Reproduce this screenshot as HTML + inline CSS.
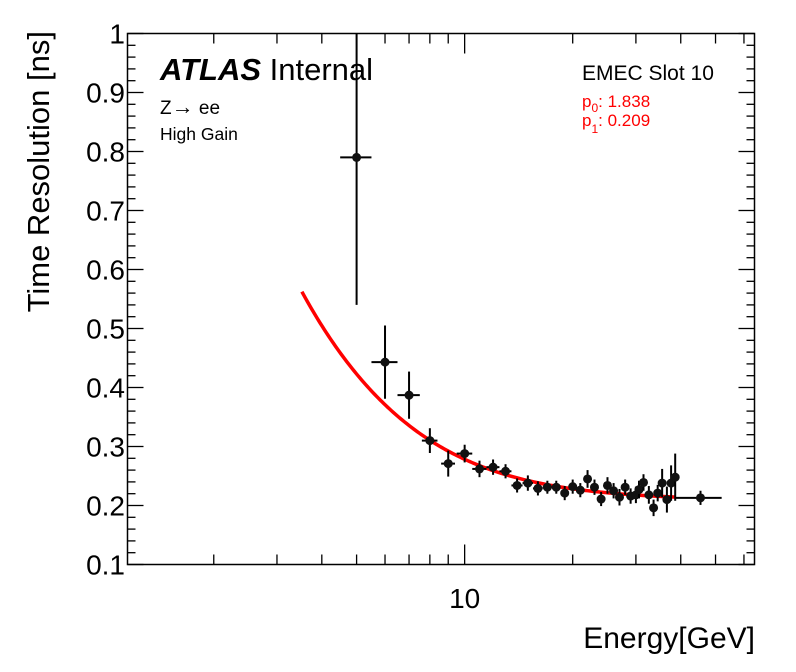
<!DOCTYPE html>
<html><head><meta charset="utf-8"><style>
html,body{margin:0;padding:0;background:#fff;}
svg{display:block;font-family:"Liberation Sans",sans-serif;}
</style></head><body>
<svg id="chart" width="796" height="672" viewBox="0 0 796 672" xmlns="http://www.w3.org/2000/svg">
<rect x="0" y="0" width="796" height="672" fill="#fff"/>
<g id="ticks"></g>
<rect x="127.5" y="33.5" width="627" height="531" fill="none" stroke="#000" stroke-width="1.5"/>
<g id="fit"></g>
<g id="points"></g>
<g id="labels"></g>
<text transform="translate(49,31) rotate(-90)" text-anchor="end" font-size="31">Time Resolution [ns]</text>
<text x="755" y="648" text-anchor="end" font-size="30">Energy[GeV]</text>
<text x="160" y="80" font-size="31"><tspan font-weight="bold" font-style="italic">ATLAS</tspan> Internal</text>
<text x="160" y="114" font-size="19">Z<tspan font-size="22">→</tspan> ee</text>
<text x="160" y="140" font-size="17.5">High Gain</text>
<text x="582" y="80" font-size="21">EMEC Slot 10</text>
<text x="582" y="107" font-size="17" fill="#f00">p<tspan font-size="12" dy="5">0</tspan><tspan dy="-5">: 1.838</tspan></text>
<text x="582" y="126" font-size="17" fill="#f00">p<tspan font-size="12" dy="7">1</tspan><tspan dy="-7">: 0.209</tspan></text>
</svg>
<script>
const energies=[5,6,7,8,9,10,11,12,13,14,15,16,17,18,19,20,21,22,23,24,25,26,27,28,29,30,30.6,31.5,32.6,33.6,34.5,35.5,36.6,37.6,38.6,45.4];
const resolutions=[0.79,0.443,0.387,0.310,0.271,0.288,0.262,0.265,0.258,0.234,0.238,0.229,0.231,0.231,0.221,0.232,0.226,0.245,0.231,0.211,0.234,0.225,0.214,0.231,0.216,0.218,0.227,0.239,0.218,0.196,0.221,0.238,0.210,0.238,0.248,0.213];
const yErrors=[0.25,0.062,0.04,0.021,0.022,0.015,0.014,0.013,0.012,0.012,0.013,0.012,0.011,0.011,0.012,0.012,0.012,0.015,0.013,0.012,0.014,0.013,0.014,0.013,0.013,0.014,0.015,0.014,0.015,0.014,0.014,0.024,0.022,0.03,0.04,0.012];
const xErrLow=[0.5,0.5,0.5,0.4,0.4,0.5,0.5,0.5,0.5,0.5,0.5,0.5,0.5,0.5,0.5,0.5,0.5,0.5,0.5,0.5,0.5,0.5,0.5,0.5,0.5,0.4,0.4,0.4,0.4,0.4,0.4,0.4,0.4,0.4,0.4,6.6];
const xErrHigh=[0.5,0.5,0.5,0.4,0.4,0.5,0.5,0.5,0.5,0.5,0.5,0.5,0.5,0.5,0.5,0.5,0.5,0.5,0.5,0.5,0.5,0.5,0.5,0.5,0.5,0.4,0.4,0.4,0.4,0.4,0.4,0.4,0.4,0.4,0.4,6.6];
const fitP0=1.838, fitP1=0.209;
const fitRange=[3.52,38.6];
const yTicks=[0.1,0.2,0.3,0.4,0.5,0.6,0.7,0.8,0.9,1];
const yTickLabels=["0.1","0.2","0.3","0.4","0.5","0.6","0.7","0.8","0.9","1"];
const xMinorTicks=[2,3,4,5,6,7,8,9,20,30,40,50,60];
const xMajorTicks=[10];
const xTickLabels=["10"];

const NS="http://www.w3.org/2000/svg";
const L=127.5,R=754.5,T=33.5,B=564.5;
const xMin=Math.log10(1.15),xMax=Math.log10(64.2);
function X(e){return L+(Math.log10(e)-xMin)/(xMax-xMin)*(R-L);}
function Y(v){return B-(v-0.1)/(0.9)*(B-T);}
function mk(tag,attrs,parent){const el=document.createElementNS(NS,tag);for(const k in attrs)el.setAttribute(k,attrs[k]);parent.appendChild(el);return el;}
const gT=document.getElementById('ticks'),gF=document.getElementById('fit'),gP=document.getElementById('points'),gL=document.getElementById('labels');
for(let v=0.1;v<=1.0001;v+=0.02){
  const y=Y(v);const major=Math.abs(v*10-Math.round(v*10))<1e-6;const len=major?16:8;
  const t1=mk('line',{x1:L,x2:L+len,y1:y,y2:y,stroke:'#000','stroke-width':1.3},gT);
  
  
  const t2=mk('line',{x1:R,x2:R-len,y1:y,y2:y,stroke:'#000','stroke-width':1.3},gT);
  
  
}
yTicks.forEach((v,i)=>{
  const t=mk('text',{x:125,y:Y(v)+10,'text-anchor':'end','font-size':28},gL);
  t.textContent=yTickLabels[i];
  
  
});
xMinorTicks.forEach(e=>{const x=X(e);
  const a=mk('line',{x1:x,x2:x,y1:B,y2:B-10,stroke:'#000','stroke-width':1.3},gT);
  
  
  const b=mk('line',{x1:x,x2:x,y1:T,y2:T+10,stroke:'#000','stroke-width':1.3},gT);
  
  
});
xMajorTicks.forEach((e,i)=>{const x=X(e);
  const a=mk('line',{x1:x,x2:x,y1:B,y2:B-20,stroke:'#000','stroke-width':1.3},gT);
  
  
  const b=mk('line',{x1:x,x2:x,y1:T,y2:T+20,stroke:'#000','stroke-width':1.3},gT);
  
  
  const t=mk('text',{x:x,y:608,'text-anchor':'middle','font-size':28},gL);
  t.textContent=xTickLabels[i];
  
  
});
let d='';const n=200;
for(let i=0;i<=n;i++){const le=Math.log10(fitRange[0])+(Math.log10(fitRange[1])-Math.log10(fitRange[0]))*i/n;const e=Math.pow(10,le);
  const v=Math.sqrt(Math.pow(fitP0/e,2)+fitP1*fitP1);d+=(i?'L':'M')+X(e).toFixed(2)+','+Y(v).toFixed(2);}
const fc=mk('path',{d:d,fill:'none',stroke:'#f00','stroke-width':3.5},gF);


energies.forEach((e,i)=>{
  const g=mk('g',{},gP);
  
  
  const x=X(e),y=Y(resolutions[i]);
  const yt=Math.max(T,Y(resolutions[i]+yErrors[i])),yb=Math.min(B,Y(resolutions[i]-yErrors[i]));
  mk('line',{x1:x,x2:x,y1:yt,y2:yb,stroke:'#000','stroke-width':2},g);
  mk('line',{x1:X(e-xErrLow[i]),x2:X(e+xErrHigh[i]),y1:y,y2:y,stroke:'#000','stroke-width':2},g);
  mk('circle',{cx:x,cy:y,r:4.5,fill:'#111'},g);
});
</script>
</body></html>
